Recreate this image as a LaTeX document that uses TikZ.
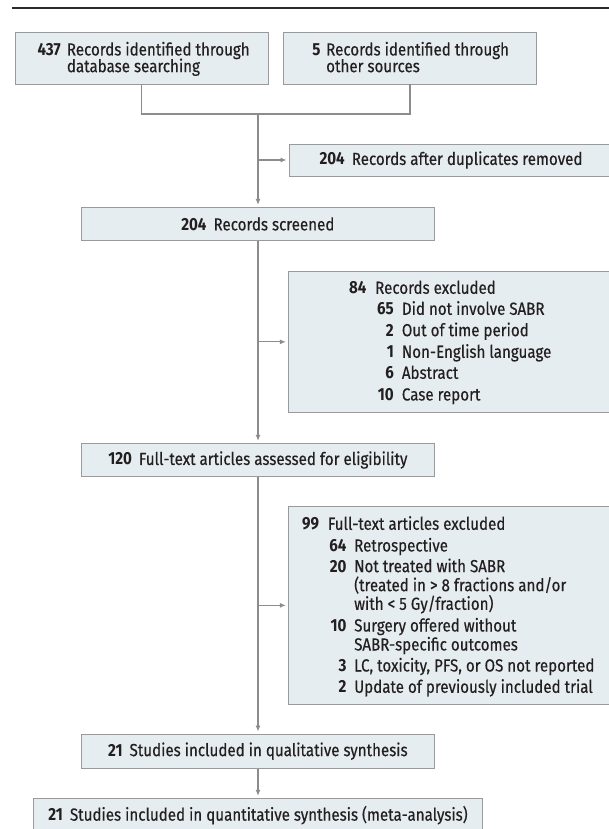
\documentclass[tikz,border=0pt]{standalone}
\usepackage{fontspec}
\setmainfont{Fira Sans}[FakeStretch=0.865, UprightFeatures={FakeBold=0.4}]
\usetikzlibrary{arrows.meta}
\definecolor{boxfill}{HTML}{E6EDF1}
\definecolor{boxline}{HTML}{9A9A9A}
\definecolor{connc}{HTML}{8C8C8C}
\definecolor{ink}{HTML}{231F20}
\definecolor{rulec}{HTML}{2B2B2B}
\tikzset{
  box/.style={draw=boxline, fill=boxfill, line width=0.9pt, inner sep=0pt, rectangle, text=ink, font=\fontsize{17.5}{19}\selectfont},
  conn/.style={draw=connc, line width=1.1pt},
  arr/.style={conn, -{Latex[length=6pt,width=5pt]}, shorten >=2pt},
  txt/.style={inner sep=0pt, text=ink, font=\fontsize{17.5}{19}\selectfont},
  num/.style={inner sep=0pt, text=ink, font=\fontsize{17.5}{19}\selectfont\bfseries},
}
\begin{document}
\begin{tikzpicture}[x=1pt,y=-1pt]
\useasboundingbox (0,0) rectangle (609,829);
% top rule
\coordinate (r1) at (11.6,8);
\coordinate (r2) at (609,8);
\draw[rulec, line width=1.3pt] (r1) -- (r2);

% boxes
\node[box, minimum width=253.3pt, minimum height=51.7pt] (b1) at (141.65,58.15) {};
\node[box, minimum width=253.4pt, minimum height=51.7pt] (b2) at (410,58.15) {};
\node[box, minimum width=324pt, minimum height=32pt] (dup) at (451,160) {\textbf{204}\hspace{7pt}Records after duplicates removed};
\node[box, minimum width=352.3pt, minimum height=33.4pt] (scr) at (257.85,224) {\textbf{204}\hspace{7pt}Records screened};
\node[box, minimum width=324.7pt, minimum height=141.7pt] (ex1) at (450.65,341.85) {};
\node[box, minimum width=352.3pt, minimum height=33.4pt] (ft) at (257.85,460) {\textbf{120}\hspace{7pt}Full-text articles assessed for eligibility};
\node[box, minimum width=324.7pt, minimum height=197.3pt] (ex2) at (450.65,605.35) {};
\node[box, minimum width=352.4pt, minimum height=34.3pt] (qual) at (257.85,751.15) {\textbf{21}\hspace{7pt}Studies included in qualitative synthesis};
\node[box, minimum width=449.3pt, minimum height=33.7pt] (quant) at (258.05,815.15) {\textbf{21}\hspace{7pt}Studies included in quantitative synthesis (meta-analysis)};

% box 1 text
\node[num, anchor=base east] (n1) at (61,55.5) {437};
\node[txt, anchor=base west] (t1a) at (66.7,55.5) {Records identified through};
\node[txt, anchor=base west] (t1b) at (66.7,72.2) {database searching};
% box 2 text
\node[num, anchor=base east] (n2) at (320.7,55.5) {5};
\node[txt, anchor=base west] (t2a) at (326,55.5) {Records identified through};
\node[txt, anchor=base west] (t2b) at (326,72.2) {other sources};

% box ex1 text
\node[num, anchor=base east] (n3) at (366.7,293.8) {84};
\node[txt, anchor=base west] (t3) at (375,293.8) {Records excluded};
\foreach \n/\t/\y [count=\i] in {65/Did not involve SABR/314.8, 2/Out of time period/336.2, 1/Non-English language/357.8, 6/Abstract/378.8, 10/Case report/400.5}{
  \node[num, anchor=base east] (ea\i) at (394,\y) {\n};
  \node[txt, anchor=base west] (eb\i) at (401.7,\y) {\t};
}

% box ex2 text
\node[num, anchor=base east] (n4) at (319.3,529.8) {99};
\node[txt, anchor=base west] (t4) at (327.7,529.8) {Full-text articles excluded};
\foreach \n/\t/\y [count=\i] in {64/Retrospective/551.5, 20/Not treated with SABR/572.2, 10/Surgery offered without/631.5, 3/{LC, toxicity, PFS, or OS not reported}/671.5, 2/Update of previously included trial/692.8}{
  \node[num, anchor=base east] (fa\i) at (346.7,\y) {\n};
  \node[txt, anchor=base west] (fb\i) at (354,\y) {\t};
}
\node[txt, anchor=base west] (fc1) at (354,591.2) {(treated in > 8 fractions and/or};
\node[txt, anchor=base west] (fc2) at (354,609.8) {with < 5 Gy/fraction)};
\node[txt, anchor=base west] (fc3) at (354,650.5) {SABR-specific outcomes};

% connectors
\coordinate (j) at (258,114);
\draw[conn] (b1.south) |- (j) -| (b2.south);
\draw[arr] (j) -- (j |- scr.north);
\coordinate (k1) at (258,160);
\draw[arr] (k1) -- (dup.west);
\draw[arr] (scr.south -| j) -- (ft.north -| j);
\coordinate (k2) at (258,341.85);
\draw[arr] (k2) -- (ex1.west);
\draw[arr] (ft.south -| j) -- (qual.north -| j);
\coordinate (k3) at (258,605.35);
\draw[arr] (k3) -- (ex2.west);
\draw[arr] (qual.south -| j) -- (quant.north -| j);
\end{tikzpicture}
\end{document}
